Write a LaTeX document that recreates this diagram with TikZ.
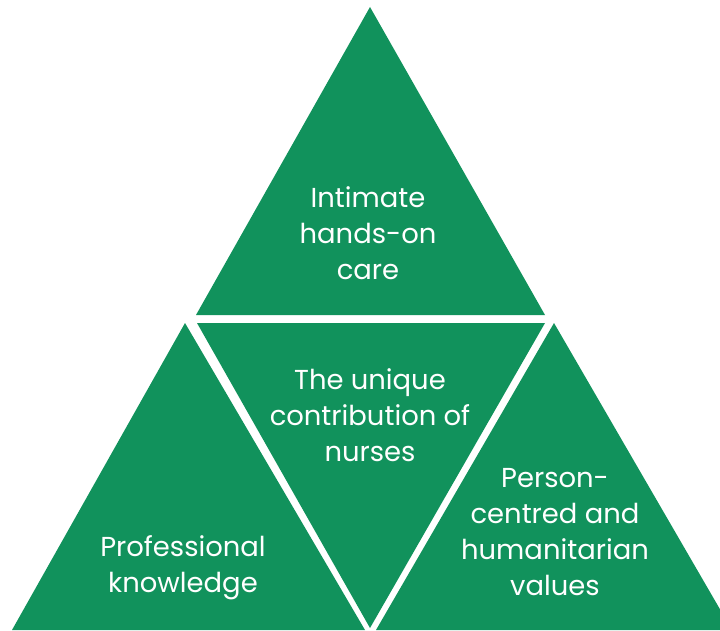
\documentclass[tikz,border=0pt]{standalone}
\usepackage{fontspec}
\setmainfont{Poppins}
\definecolor{nursegreen}{HTML}{11925C}
\tikzset{
  label/.style={text=white, align=center, font=\fontsize{19.5}{25.5}\selectfont}
}
\begin{document}
\begin{tikzpicture}[x=0.025cm, y=-0.025cm]
    \useasboundingbox (0,0) rectangle (720,630);
    % Dreieck oben
    \fill[nursegreen] (370,7) -- (196,315) -- (545,315) -- cycle;
    % Dreieck Mitte (umgedreht)
    \fill[nursegreen] (197,323) -- (545,323) -- (370,628) -- cycle;
    % Dreieck links
    \fill[nursegreen] (185,323) -- (12,630) -- (365,630) -- cycle;
    % Dreieck rechts
    \begin{scope}
      \clip (0,0) rectangle (720,630);
      \fill[nursegreen] (554,323) -- (376,630) -- (732,630) -- cycle;
    \end{scope}

    % Beschriftungen
    \node[label] (care) at (368,233) {Intimate\\hands-on\\care};
    \node[label] (unique) at (370,415) {The unique\\contribution of\\nurses};
    \node[label] (knowledge) at (183,568) {Professional\\knowledge};
    \node[label] (values) at (555,532) {Person-\\centred and\\humanitarian\\values};
  \end{tikzpicture}
\end{document}
